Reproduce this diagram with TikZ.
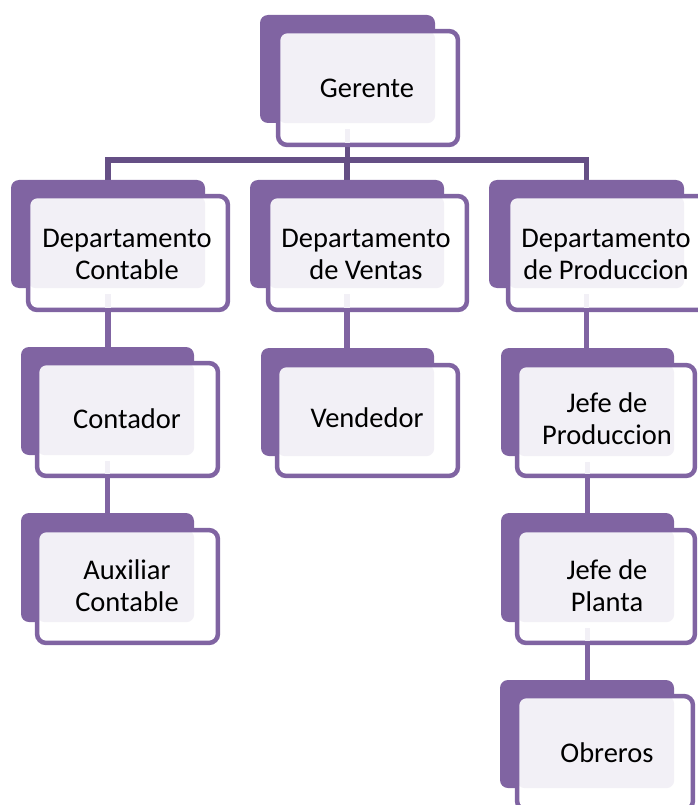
\documentclass[tikz,border=0pt]{standalone}
\usepackage{fontspec}
\setmainfont{Carlito}
\usetikzlibrary{fit,backgrounds}
\definecolor{purp}{HTML}{8064A2}
\definecolor{purpdark}{HTML}{654F85}
\definecolor{lightp}{HTML}{F2F0F6}
\tikzset{
  backbox/.style={fill=purp, draw=none, rounded corners=8pt, inner sep=0pt},
  frontarea/.style={draw=none, inner sep=0pt},
  frontfill/.style={fill=white, rounded corners=9pt},
  frontline/.style={draw=purp, line width=4.5pt, rounded corners=9pt},
  lightarea/.style={fill=lightp, rounded corners=8pt},
  txt/.style={align=center, inner sep=0pt, font=\fontsize{28.5}{32}\selectfont, text=black},
  conn/.style={draw=purp, line width=5.5pt},
  darkconn/.style={draw=purpdark, line width=5.5pt, line join=miter},
  lightseg/.style={draw=lightp, line width=5.5pt}
}
\newcommand\orgbox[7]{%
  \node[backbox, fit={#2 #3}] (#1B) {};
  \node[frontarea, fit={#4 #5}] (#1F) {};
  \fill[frontfill] ([shift={(2.25,2.25)}]#1F.north west) rectangle ([shift={(-2.25,-2.25)}]#1F.south east);
  \fill[lightarea] ([shift={(2.25,2.25)}]#1F.north west) rectangle (#1B.south east);
  \draw[frontline] ([shift={(2.25,2.25)}]#1F.north west) rectangle ([shift={(-2.25,-2.25)}]#1F.south east);
  \node[txt] (#1) at #6 {#7};
}
\newcommand\lightdown[1]{%
  \draw[lightseg] ([yshift=-6pt]#1B.south) -- ([yshift=4.5pt]#1B.south |- #1F.south);
}
\begin{document}
\begin{tikzpicture}[x=1pt,y=-1pt]
\useasboundingbox (0,0) rectangle (698,805);
\orgbox{g}{(260,15)}{(435,123)}{(276,29)}{(460,147)}{(367,88)}{Gerente}
\orgbox{dc}{(11,180)}{(205,288)}{(26,194)}{(230,312)}{(127,254)}{Departamento\\Contable}
\orgbox{dv}{(250,180)}{(444,288)}{(266,194)}{(469,312)}{(366,254)}{Departamento\\de Ventas}
\orgbox{dp}{(489,180)}{(684,288)}{(506,194)}{(710,312)}{(606,254)}{Departamento\\de Produccion}
\orgbox{co}{(21,347)}{(194,455)}{(35,361)}{(220,478)}{(127,419)}{Contador}
\orgbox{ve}{(261,348)}{(434,456)}{(275,363)}{(460,478)}{(367,418)}{Vendedor}
\orgbox{jp}{(501,348)}{(674,456)}{(515,363)}{(697,478)}{(607,419)}{Jefe de\\Produccion}
\orgbox{au}{(21,513)}{(194,622)}{(35,528)}{(220,645)}{(127,586)}{Auxiliar\\Contable}
\orgbox{jl}{(501,513)}{(674,622)}{(515,528)}{(697,645)}{(607,586)}{Jefe de\\Planta}
\orgbox{ob}{(500,680)}{(674,788)}{(515,694)}{(695,812)}{(607,753)}{Obreros}
\lightdown{g}\lightdown{dc}\lightdown{dv}\lightdown{dp}
\lightdown{co}\lightdown{jp}\lightdown{jl}
\coordinate (bar) at (0,160);
\begin{scope}[on background layer]
  \draw[darkconn] (gB.south) -- (gB.south |- bar);
  \draw[darkconn] (dcB.north) -- (dcB.north |- bar) -- (dpB.north |- bar) -- (dpB.north);
  \draw[darkconn] (dvB.north) -- (dvB.north |- bar);
  \draw[conn] (dcB.south) -- (dcB.south |- coB.north);
  \draw[conn] (coB.south) -- (coB.south |- auB.north);
  \draw[conn] (dvB.south) -- (dvB.south |- veB.north);
  \draw[conn] (dpB.south) -- (dpB.south |- jpB.north);
  \draw[conn] (jpB.south) -- (jpB.south |- jlB.north);
  \draw[conn] (jlB.south) -- (jlB.south |- obB.north);
\end{scope}
\end{tikzpicture}
\end{document}
